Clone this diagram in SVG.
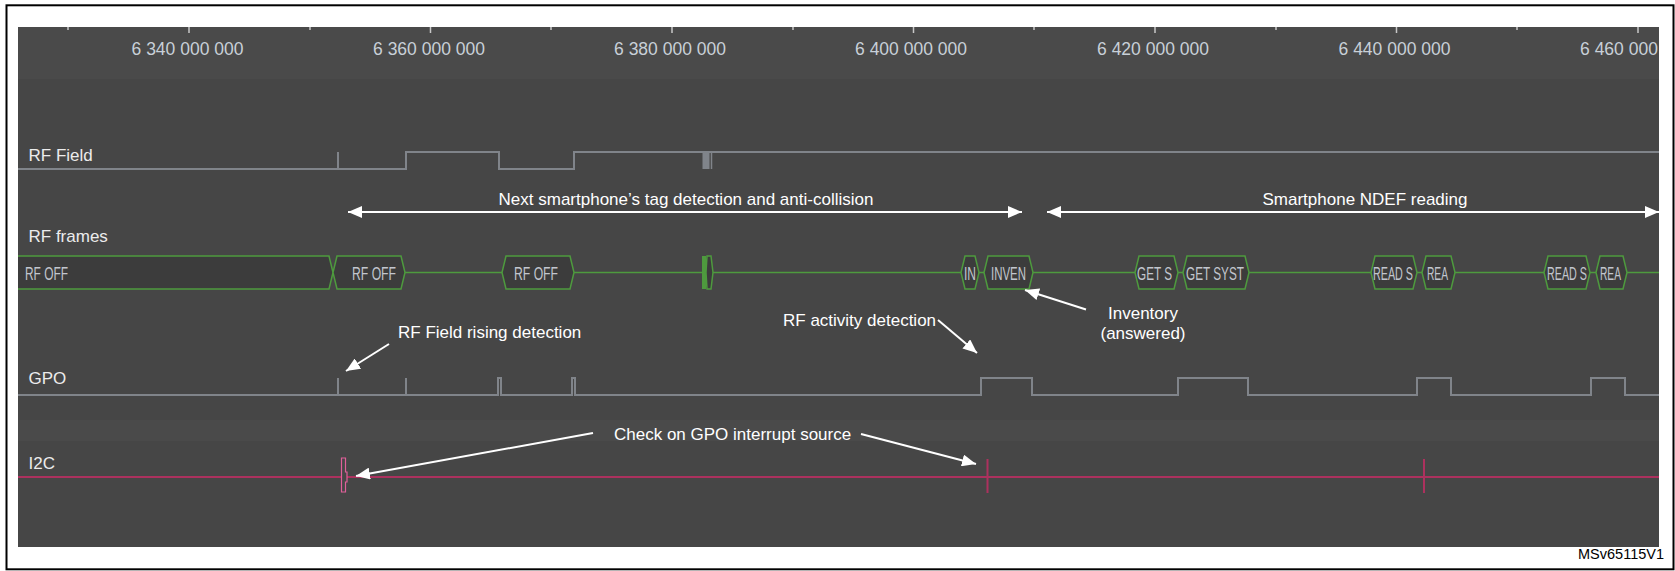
<svg xmlns="http://www.w3.org/2000/svg" width="1675" height="571" viewBox="0 0 1675 571">
<style>
.lbl{font-family:"Liberation Sans",Arial,sans-serif;font-size:17px;fill:#ececec}
.ann{font-family:"Liberation Sans",Arial,sans-serif;font-size:17px;fill:#ffffff}
.ax{font-family:"Liberation Sans",Arial,sans-serif;font-size:17.5px;fill:#c8d0d8;text-anchor:middle}
.fr{font-family:"Liberation Sans",Arial,sans-serif;font-size:19px;fill:#c2c6ce}
.sig{fill:none;stroke:#80848a;stroke-width:2}
.box{fill:#3c3c3c;stroke:#4e9a3e;stroke-width:1.5}
.arr{fill:none;stroke:#ffffff;stroke-width:2}
.tick{stroke:#c8c8c8;stroke-width:1.5}
</style>
<defs>
<clipPath id="pc"><rect x="18" y="27" width="1641" height="520"/></clipPath>
<marker id="ah" markerUnits="userSpaceOnUse" markerWidth="15" markerHeight="12" refX="14" refY="6" orient="auto-start-reverse">
<path d="M0,0 L14,6 L0,12 z" fill="#ffffff"/>
</marker>
</defs>
<rect width="1675" height="571" fill="#ffffff"/>
<rect x="6.5" y="5.3" width="1667" height="564" fill="none" stroke="#000" stroke-width="2"/>
<g id="panel" clip-path="url(#pc)">
<rect x="18" y="27" width="1641" height="520" fill="#464646"/>
<rect x="18" y="27" width="1641" height="52" fill="#4a4a4a"/>
<rect x="18" y="420" width="1641" height="21" fill="#4a4a4a"/>
<g id="axis">
<line class="tick" x1="68" y1="27" x2="68" y2="30"/>
<line class="tick" x1="189" y1="27" x2="189" y2="33"/>
<line class="tick" x1="310" y1="27" x2="310" y2="30"/>
<line class="tick" x1="430.5" y1="27" x2="430.5" y2="33"/>
<line class="tick" x1="551" y1="27" x2="551" y2="30"/>
<line class="tick" x1="672" y1="27" x2="672" y2="33"/>
<line class="tick" x1="793" y1="27" x2="793" y2="30"/>
<line class="tick" x1="913.5" y1="27" x2="913.5" y2="33"/>
<line class="tick" x1="1034" y1="27" x2="1034" y2="30"/>
<line class="tick" x1="1155" y1="27" x2="1155" y2="33"/>
<line class="tick" x1="1276" y1="27" x2="1276" y2="30"/>
<line class="tick" x1="1396.5" y1="27" x2="1396.5" y2="33"/>
<line class="tick" x1="1517" y1="27" x2="1517" y2="30"/>
<line class="tick" x1="1638" y1="27" x2="1638" y2="33"/>
<text class="ax" x="187.5" y="55">6 340 000 000</text>
<text class="ax" x="429" y="55">6 360 000 000</text>
<text class="ax" x="670" y="55">6 380 000 000</text>
<text class="ax" x="911" y="55">6 400 000 000</text>
<text class="ax" x="1153" y="55">6 420 000 000</text>
<text class="ax" x="1394.5" y="55">6 440 000 000</text>
<text class="ax" x="1636" y="55">6 460 000 000</text>
</g>
<g id="rf-field">
<text class="lbl" x="28.5" y="161">RF Field</text>
<path class="sig" d="M18,169 H338 V152 V169 H406 V152 H499 V169 H574 V152 H1659"/>
<rect x="702.5" y="152" width="7" height="17" fill="#80848a"/>
<line x1="711.5" y1="152" x2="711.5" y2="169" stroke="#80848a" stroke-width="1.5"/>
</g>
<g id="rf-frames">
<text class="lbl" x="28.5" y="242">RF frames</text>
<line x1="18" y1="272.5" x2="1659" y2="272.5" stroke="#4e9a3e" stroke-width="1.5"/>
<polygon class="box" points="16,256 329,256 333,272.5 329,289 16,289"/>
<polygon class="box" points="333,272.5 337,256 401,256 405,272.5 401,289 337,289"/>
<polygon class="box" points="502,272.5 506,256 570,256 574,272.5 570,289 506,289"/>
<rect x="702" y="256" width="4" height="33" fill="#4e9a3e"/>
<polygon class="box" points="706,272.5 707,256 711,256 713,272.5 711,289 707,289"/>
<polygon class="box" points="961,272.5 965,256 975,256 979,272.5 975,289 965,289"/>
<polygon class="box" points="984,272.5 988,256 1029,256 1033,272.5 1029,289 988,289"/>
<polygon class="box" points="1135,272.5 1139,256 1174,256 1178,272.5 1174,289 1139,289"/>
<polygon class="box" points="1183,272.5 1187,256 1245,256 1249,272.5 1245,289 1187,289"/>
<polygon class="box" points="1371,272.5 1375,256 1413,256 1417,272.5 1413,289 1375,289"/>
<polygon class="box" points="1422,272.5 1426,256 1451,256 1455,272.5 1451,289 1426,289"/>
<polygon class="box" points="1544,272.5 1548,256 1586,256 1590,272.5 1586,289 1548,289"/>
<polygon class="box" points="1596,272.5 1600,256 1623,256 1627,272.5 1623,289 1600,289"/>
<text class="fr" x="25" y="279.5" textLength="43" lengthAdjust="spacingAndGlyphs">RF OFF</text>
<text class="fr" x="352" y="279.5" textLength="44" lengthAdjust="spacingAndGlyphs">RF OFF</text>
<text class="fr" x="514" y="279.5" textLength="44" lengthAdjust="spacingAndGlyphs">RF OFF</text>
<text class="fr" x="964" y="279.5" textLength="12" lengthAdjust="spacingAndGlyphs">IN</text>
<text class="fr" x="991" y="279.5" textLength="35" lengthAdjust="spacingAndGlyphs">INVEN</text>
<text class="fr" x="1137" y="279.5" textLength="35" lengthAdjust="spacingAndGlyphs">GET S</text>
<text class="fr" x="1186" y="279.5" textLength="58" lengthAdjust="spacingAndGlyphs">GET SYST</text>
<text class="fr" x="1373" y="279.5" textLength="40" lengthAdjust="spacingAndGlyphs">READ S</text>
<text class="fr" x="1427" y="279.5" textLength="21" lengthAdjust="spacingAndGlyphs">REA</text>
<text class="fr" x="1547" y="279.5" textLength="40" lengthAdjust="spacingAndGlyphs">READ S</text>
<text class="fr" x="1600" y="279.5" textLength="21" lengthAdjust="spacingAndGlyphs">REA</text>
</g>
<g id="gpo">
<text class="lbl" x="28.5" y="384">GPO</text>
<path class="sig" d="M18,395 H338 V378 V395 H406 V378 V395 H498 V378 H501 V395 H572 V378 H575 V395 H981 V378 H1032 V395 H1178 V378 H1248 V395 H1417 V378 H1451 V395 H1591 V378 H1625 V395 H1659"/>
</g>
<g id="i2c">
<text class="lbl" x="28.5" y="469">I2C</text>
<line x1="18" y1="477" x2="1659" y2="477" stroke="#ac315e" stroke-width="2"/>
<path d="M341.5,458 H345.5 V472 H347 V482 H345.5 V492 H341.5 Z" fill="#464646" stroke="#e0609a" stroke-width="1.2"/>
<line x1="987.5" y1="459" x2="987.5" y2="493" stroke="#ac315e" stroke-width="2"/>
<line x1="1424" y1="459" x2="1424" y2="493" stroke="#ac315e" stroke-width="2"/>
</g>
</g>
<g id="annotations">
<line class="arr" x1="348" y1="212" x2="1022" y2="212" marker-start="url(#ah)" marker-end="url(#ah)"/>
<line class="arr" x1="1047" y1="212" x2="1659" y2="212" marker-start="url(#ah)" marker-end="url(#ah)"/>
<line class="arr" x1="389" y1="344" x2="346" y2="371" marker-end="url(#ah)"/>
<line class="arr" x1="938" y1="320" x2="977" y2="353" marker-end="url(#ah)"/>
<line class="arr" x1="1086" y1="309.5" x2="1025" y2="290" marker-end="url(#ah)"/>
<line class="arr" x1="593" y1="433" x2="356" y2="476" marker-end="url(#ah)"/>
<line class="arr" x1="861" y1="434" x2="976" y2="464" marker-end="url(#ah)"/>
</g>
<g id="labels">
<text class="ann" x="686" y="205" text-anchor="middle">Next smartphone’s tag detection and anti-collision</text>
<text class="ann" x="1365" y="205" text-anchor="middle">Smartphone NDEF reading</text>
<text class="ann" x="398" y="338">RF Field rising detection</text>
<text class="ann" x="783" y="326">RF activity detection</text>
<text class="ann" x="1143" y="319" text-anchor="middle">Inventory</text>
<text class="ann" x="1143" y="339" text-anchor="middle">(answered)</text>
<text class="ann" x="614" y="440">Check on GPO interrupt source</text>
<text x="1664" y="559" text-anchor="end" style="font-family:'Liberation Sans',Arial,sans-serif;font-size:14.5px;fill:#000">MSv65115V1</text>
</g>
</svg>
